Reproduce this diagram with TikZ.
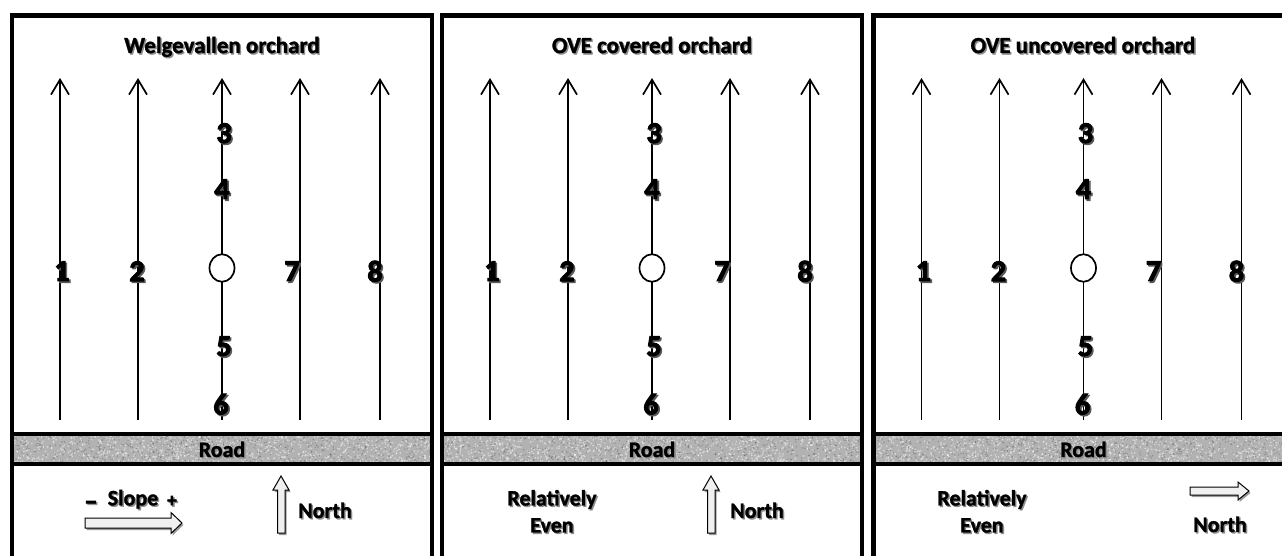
\documentclass[tikz,border=0pt]{standalone}
\usepackage{fontspec}
\setmainfont{Carlito}[BoldFont={Carlito Bold}]
\newfontfamily\labelfont{Carlito Bold}[FakeBold=1.4]
\newfontfamily\heavyfont{Carlito Bold}[FakeBold=3.2]
\usetikzlibrary{arrows.meta,shadows}
\definecolor{roadgray}{HTML}{B2B2B2}
% text with a soft dark shadow behind it
\newcommand\shd[1]{\leavevmode\rlap{\kern1.4pt\raisebox{-1.4pt}{\textcolor{black!45}{#1}}}#1}
\newcommand\numshd[1]{\leavevmode\rlap{\kern1.6pt\raisebox{-1.6pt}{\textcolor{black!65}{#1}}}#1}
\tikzset{
  frame/.style={line width=4.5pt},
  roadline/.style={line width=3.5pt},
  rowline/.style={line width=1.7pt,-{Straight Barb[length=15pt,width=18pt,line width=1.7pt]}},
  titletext/.style={font=\labelfont\fontsize{23}{23}\selectfont,inner sep=0,anchor=base},
  numtext/.style={font=\heavyfont\fontsize{30}{30}\selectfont,inner sep=0},
  lbl/.style={font=\labelfont\fontsize{22}{27}\selectfont,align=center,inner sep=0},
  tree/.style={draw,line width=1.7pt,fill=white,circle,inner sep=0,minimum size=25pt,yscale=1.1},
  blockarrow/.style={draw,line width=1pt,fill=gray!12,
    drop shadow={shadow xshift=1.5pt,shadow yshift=-2pt,opacity=.4,fill=black}}
}
\begin{document}
\begin{tikzpicture}[x=1pt,y=-1pt]
\useasboundingbox (0,0) rectangle (1282,556);
\fill[white] (0,0) rectangle (1282,556);
\pgfmathsetseed{4213}
% three identical orchard panels
\foreach \o/\p in {0/a,430/b,861.5/c}{
 \begin{scope}[xshift=\o pt]
  % gravel road strip
  \begin{scope}
   \clip (12,435) rectangle (432,463);
   \fill[roadgray] (12,435) rectangle (432,463);
   \foreach \i in {1,...,900}{
     \pgfmathsetmacro\rx{12+420*rnd}
     \pgfmathsetmacro\ry{435+28*rnd}
     \fill[white,opacity=.5] (\rx,\ry) circle (0.9pt);
   }
   \foreach \i in {1,...,600}{
     \pgfmathsetmacro\rx{12+420*rnd}
     \pgfmathsetmacro\ry{435+28*rnd}
     \fill[black,opacity=.2] (\rx,\ry) circle (0.8pt);
   }
  \end{scope}
  \node[lbl] (\p-road) at (222,450) {\shd{Road}};
  % tree rows
  \foreach \k/\x in {1/60,2/138,3/222,4/300,5/380}{
    \coordinate (\p-b\k) at (\x,420);
    \coordinate (\p-t\k) at (\x,78);
    \draw[rowline] (\p-b\k) -- (\p-t\k);
  }
  \node[tree] (\p-tree) at (222,268) {};
  % sampled trees
  \foreach \n/\nx/\ny in {1/62/272,2/137/272,3/224/134,4/222/190,5/224/347,6/221/405,7/292/272,8/375/272}{
    \node[numtext] (\p-n\n) at (\nx,\ny) {\numshd{\n}};
  }
  % borders
  \draw[roadline] (12,434) -- (432,434);
  \draw[roadline] (12,464) -- (432,464);
  \draw[frame] (12,15.5) rectangle (432,575);
 \end{scope}
}
% titles
\node[titletext] (ttl-a) at (222,53) {\shd{Welgevallen orchard}};
\node[titletext] (ttl-b) at (652,53) {\shd{OVE covered orchard}};
\node[titletext] (ttl-c) at (1083,53) {\shd{OVE uncovered orchard}};
% legend, first panel
\node[lbl] (slope) at (133,500) {\shd{Slope}};
\node[font=\heavyfont\fontsize{26}{26}\selectfont,inner sep=0] (minus) at (91,506) {\shd{–}};
\node[font=\heavyfont\fontsize{19}{19}\selectfont,inner sep=0] (plus) at (172,502) {\shd{+}};
\filldraw[blockarrow] (85,518) -- (171,518) -- (171,512.5) -- (182,523) -- (171,533.5) -- (171,528) -- (85,528) -- cycle;
\filldraw[blockarrow] (277.5,533) -- (277.5,490) -- (273,490) -- (281,476) -- (289,490) -- (285,490) -- (285,533) -- cycle;
\node[lbl] (north-a) at (325,511) {\shd{North}};
% legend, second panel
\node[lbl] (even-b) at (552,512) {\shd{Relatively}\\\shd{Even}};
\filldraw[blockarrow] (707.5,533) -- (707.5,490) -- (703,490) -- (711,476) -- (719,490) -- (715,490) -- (715,533) -- cycle;
\node[lbl] (north-b) at (757,511) {\shd{North}};
% legend, third panel
\node[lbl] (even-c) at (982,512) {\shd{Relatively}\\\shd{Even}};
\filldraw[blockarrow] (1190,487) -- (1238,487) -- (1238,482) -- (1249,491) -- (1238,500) -- (1238,495) -- (1190,495) -- cycle;
\node[lbl] (north-c) at (1220,525) {\shd{North}};
\end{tikzpicture}
\end{document}
